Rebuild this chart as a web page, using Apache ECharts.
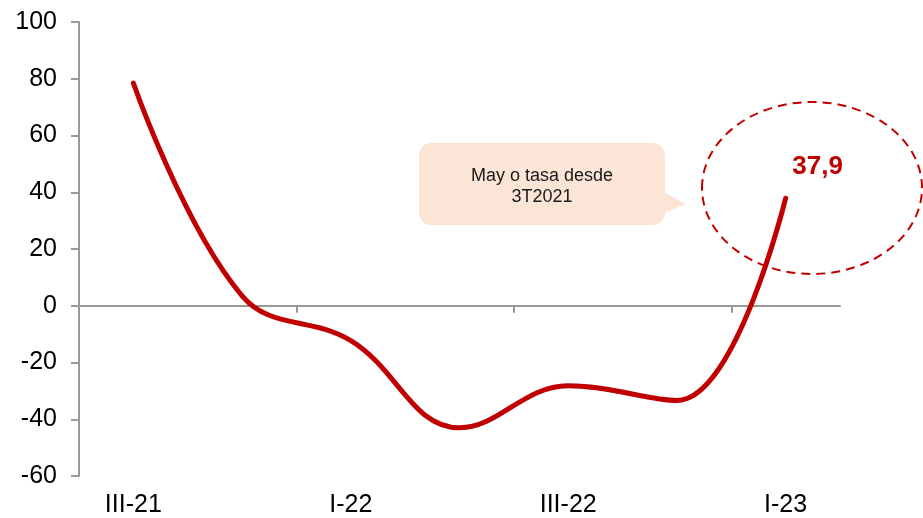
<!DOCTYPE html>
<html>
<head>
<meta charset="utf-8">
<script src="https://cdn.jsdelivr.net/npm/echarts@6/dist/echarts.min.js"></script>
<style>
  html, body { margin: 0; padding: 0; background: #fff; }
  #chart { width: 923px; height: 518px; }
</style>
</head>
<body>
<div id="chart"></div>
<script>
// trimestres
var quarters = ['III-21', 'IV-21', 'I-22', 'II-22', 'III-22', 'IV-22', 'I-23'];
// tasa de variacion
var rate = [78.5, 3.5, -12.3, -43, -28.2, -33.4, 37.9];
var yTicks = [-60, -40, -20, 0, 20, 40, 60, 80, 100];

// limites entre trimestres para las marcas del eje en cero
var bounds = quarters.concat(['']);

var lastIdx = rate.length - 1;
var seriesData = [];
for (var i = 0; i < rate.length; i++) {
    if (i == lastIdx) {
        seriesData.push({
            value: rate[i],
            label: {
                show: true,
                position: 'top',
                offset: [32, -13],
                color: '#C00000',
                fontWeight: 'bold',
                fontSize: 26,
                fontFamily: 'Liberation Sans',
                formatter: function (p) {
                    return String(p.value).replace('.', ',');
                }
            }
        });
    } else {
        seriesData.push(rate[i]);
    }
}

var option = {
    animation: false,
    grid: {
        left: 79,
        right: 83,
        top: 22,
        bottom: 41
    },
    xAxis: [
        {
            type: 'category',
            data: quarters,
            position: 'bottom',
            axisLine: { show: false, onZero: false },
            axisTick: { show: false },
            axisLabel: {
                interval: 1,
                margin: 17,
                fontSize: 25,
                color: '#000',
                fontFamily: 'Liberation Sans'
            }
        },
        {
            type: 'category',
            data: bounds,
            boundaryGap: false,
            position: 'bottom',
            axisLine: { show: true, onZero: true, lineStyle: { color: '#999', width: 2 } },
            axisTick: { show: true, interval: 1, length: 7, lineStyle: { color: '#999', width: 2 } },
            axisLabel: { show: false }
        }
    ],
    yAxis: {
        type: 'value',
        min: yTicks[0],
        max: yTicks[yTicks.length - 1],
        interval: 20,
        splitLine: { show: false },
        axisLine: { show: true, lineStyle: { color: '#999', width: 2 } },
        axisTick: { show: true, length: 8, lineStyle: { color: '#999', width: 2 } },
        axisLabel: {
            margin: 22,
            fontSize: 25,
            color: '#000',
            fontFamily: 'Liberation Sans'
        }
    },
    series: [
        {
            type: 'line',
            xAxisIndex: 0,
            data: seriesData,
            smooth: 0.4,
            symbol: 'circle',
            symbolSize: 1,
            showSymbol: true,
            itemStyle: { color: '#C00000' },
            lineStyle: { color: '#C00000', width: 5, cap: 'round' },
            z: 5
        }
    ],
    graphic: [
        {
            type: 'ellipse',
            shape: { cx: 812, cy: 188, rx: 110, ry: 86 },
            style: { fill: 'none', stroke: '#C00000', lineWidth: 2, lineDash: [9, 6] },
            z: 10
        },
        {
            type: 'rect',
            shape: { x: 419, y: 143, width: 246, height: 82, r: 12 },
            style: { fill: '#FBE5D6' },
            z: 10
        },
        {
            type: 'polygon',
            shape: { points: [[664, 192], [686, 204], [664, 213]] },
            style: { fill: '#FBE5D6' },
            z: 10
        },
        {
            type: 'text',
            x: 542,
            y: 187,
            style: {
                text: 'May o tasa desde\n3T2021',
                fill: '#1a1a1a',
                font: '18px "Liberation Sans"',
                align: 'center',
                verticalAlign: 'middle',
                lineHeight: 21
            },
            z: 11
        }
    ]
};

var chart = echarts.init(document.getElementById('chart'));
chart.setOption(option);
</script>
</body>
</html>
